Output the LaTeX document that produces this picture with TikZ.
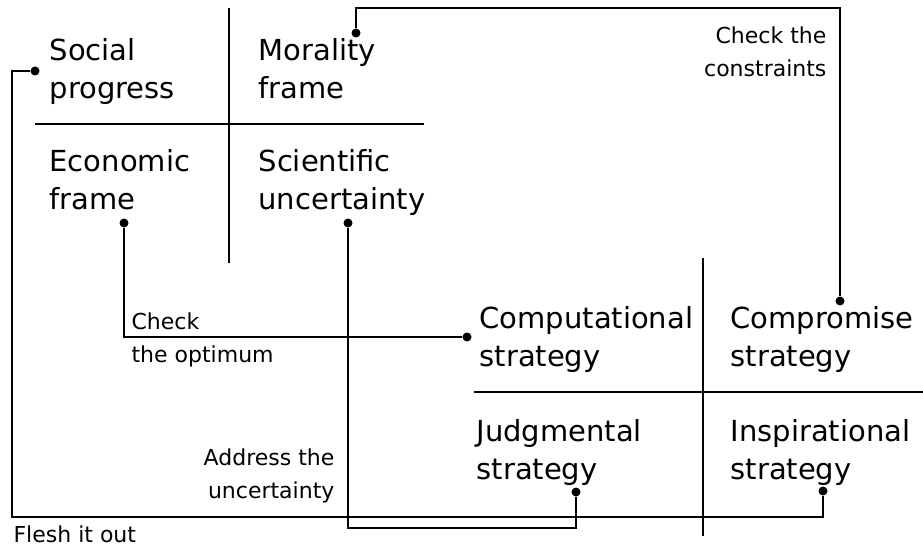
\documentclass[tikz,border=0pt]{standalone}
\usepackage{fontspec}
\setmainfont{DejaVu Sans}
\usetikzlibrary{arrows.meta, positioning}

\begin{document}
\begin{tikzpicture}[x=1pt, y=-1pt, line width=1.2pt,
    cell/.style={font=\fontsize{29}{38}\selectfont, align=left, anchor=base west, inner sep=0pt},
    note/.style={font=\fontsize{22}{33}\selectfont, inner sep=0pt},
    pin/.style={circle, fill, inner sep=0pt, minimum size=9pt}]
    \useasboundingbox (0,0) rectangle (923,548);

    % frames (anchored at the baseline of the last line)
    \node[cell] (social) at (49,99) {Social\\progress};
    \node[cell] (morality) at (258,99) {Morality\\frame};
    \node[cell] (economic) at (49,210) {Economic\\frame};
    \node[cell] (scientific) at (258,210) {Scientific\\uncertainty};
    \draw (229,8) -- (229,263);
    \draw (35,124) -- (424,124);

    % strategies
    \node[cell] (computational) at (479,366) {Computational\\strategy};
    \node[cell] (compromise) at (730,366) {Compromise\\strategy};
    \node[cell] (judgmental) at (476,479) {Judgmental\\strategy};
    \node[cell] (inspirational) at (730,479) {Inspirational\\strategy};
    \draw (703,258) -- (703,536);
    \draw (474,392) -- (923,392);

    \node[pin] (social-pin) at (35,71) {};
    \node[pin] (morality-pin) at (356,33) {};
    \node[pin] (economic-pin) at (124,223) {};
    \node[pin] (scientific-pin) at (348,223) {};
    \node[pin] (computational-pin) at (467,337) {};
    \node[pin] (compromise-pin) at (840,301) {};
    \node[pin] (judgmental-pin) at (576,492) {};
    \node[pin] (inspirational-pin) at (823,491) {};

    \coordinate (flesh-bend) at (12,517);
    \coordinate (address-bend) at (348,528);
    \coordinate (constraint-bend) at (356,8);

    \draw (social-pin) -| (flesh-bend) -| (inspirational-pin);
    \draw (economic-pin) |- (computational-pin);
    \draw (scientific-pin) -- (address-bend) -| (judgmental-pin);
    \draw (morality-pin) -- (constraint-bend) -| (compromise-pin);

    \node[note, align=right, anchor=base east] (constraints) at (827,77) {Check the\\constraints};
    \node[note, align=left, anchor=base west] (optimum) at (131,362) {Check\\the optimum};
    \node[note, align=right, anchor=base east] (address) at (335,498) {Address the\\uncertainty};
    \node[note, anchor=base west] (flesh) at (13,542) {Flesh it out};
\end{tikzpicture}
\end{document}
